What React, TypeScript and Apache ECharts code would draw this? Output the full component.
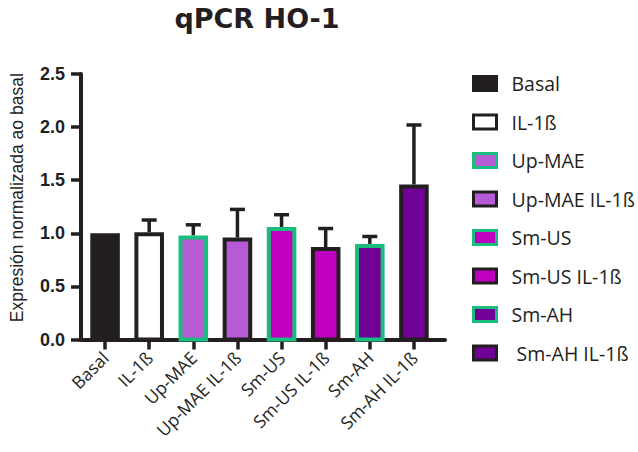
import React, { useEffect, useRef } from "react";
import * as echarts from "echarts";

const TITLE = "qPCR HO-1";
const Y_NAME = "Expresión normalizada ao basal";
const CATEGORIES = ["Basal", "IL-1ß", "Up-MAE", "Up-MAE IL-1ß", "Sm-US", "Sm-US IL-1ß", "Sm-AH", "Sm-AH IL-1ß"];
const LEGEND_NAMES = ["Basal", "IL-1ß", "Up-MAE", "Up-MAE IL-1ß", "Sm-US", "Sm-US IL-1ß", "Sm-AH", " Sm-AH IL-1ß"];
const MEANS = [1.0, 1.01, 0.98, 0.96, 1.06, 0.87, 0.9, 1.46];
const ERRORS = [0, 0.115, 0.1, 0.265, 0.115, 0.175, 0.07, 0.56];
const Y_TICKS = [0, 0.5, 1.0, 1.5, 2.0, 2.5];

const DARK = "#231F20";
const GREEN = "#19BE7F";
const FILLS = ["#231F20", "#FFFFFF", "#B65AD6", "#B65AD6", "#BE00BE", "#BE00BE", "#700096", "#700096"];
const BORDERS = [DARK, DARK, GREEN, DARK, GREEN, DARK, GREEN, DARK];
const BORDER_W = [0, 4, 4, 4, 4, 4, 4, 4];
const BAR_RATIO = 0.67;

export default function App() {
  const ref = useRef<HTMLDivElement>(null);
  useEffect(() => {
    if (!ref.current) return;
    const chart = echarts.init(ref.current, null, { renderer: "svg" });

    const barSeries = LEGEND_NAMES.map((name, k) => ({
      type: "custom",
      name,
      coordinateSystem: "cartesian2d",
      xAxisIndex: 0,
      yAxisIndex: 0,
      encode: { x: 0, y: 1 },
      itemStyle: { color: FILLS[k], borderColor: BORDERS[k], borderWidth: BORDER_W[k] },
      z: 3,
      data: [[k, MEANS[k]]],
      renderItem: (params: any, api: any) => {
        const i = api.value(0);
        const v = api.value(1);
        const top = api.coord([i, v]);
        const base = api.coord([i, 0]);
        const bw = api.size([1, 0])[0] * BAR_RATIO;
        const b = BORDER_W[k];
        return {
          type: "rect",
          shape: { x: top[0] - bw / 2 + b / 2, y: top[1] + b / 2, width: bw - b, height: base[1] - top[1] - b / 2 },
          style: { fill: FILLS[k], stroke: b > 0 ? BORDERS[k] : null, lineWidth: b },
        };
      },
    }));

    const errSeries = {
      type: "custom",
      name: "err",
      coordinateSystem: "cartesian2d",
      xAxisIndex: 0,
      yAxisIndex: 0,
      encode: { x: 0, y: [1, 2] },
      z: 2,
      data: MEANS.map((m, i) => [i, m, m + ERRORS[i]]).filter((d, i) => ERRORS[i] > 0),
      renderItem: (params: any, api: any) => {
        const i = api.value(0);
        const lo = api.coord([i, api.value(1)]);
        const hi = api.coord([i, api.value(2)]);
        const cap = 15;
        const st = { stroke: DARK, lineWidth: 3.5 };
        return {
          type: "group",
          children: [
            { type: "line", shape: { x1: lo[0], y1: lo[1], x2: hi[0], y2: hi[1] }, style: st },
            { type: "line", shape: { x1: hi[0] - cap / 2, y1: hi[1], x2: hi[0] + cap / 2, y2: hi[1] }, style: st },
          ],
        };
      },
    };

    chart.setOption({
      animation: false,
      backgroundColor: "#FFFFFF",
      title: {
        text: TITLE,
        left: 257,
        top: 5,
        textAlign: "center",
        padding: 0,
        textStyle: { fontFamily: "DejaVu Sans", fontWeight: "bold", fontSize: 27, color: DARK },
      },
      legend: {
        data: LEGEND_NAMES,
        orient: "vertical",
        left: 472,
        top: 73.5,
        padding: 0,
        icon: "rect",
        itemWidth: 23,
        itemHeight: 14,
        itemGap: 18.5,
        itemStyle: { borderWidth: 3 },
        textStyle: { fontFamily: "Open Sans", fontSize: 19.5, color: DARK, padding: [0, 0, 0, 10], lineHeight: 17 },
      },
      grid: [
        { left: 83, right: 202, top: 74, bottom: 112.5 },
        { left: 73, right: 193, top: 74, bottom: 112.5 },
      ],
      xAxis: [
        {
          type: "category",
          gridIndex: 0,
          data: CATEGORIES,
          axisLine: { show: false },
          axisTick: { show: true, alignWithLabel: true, length: 10, lineStyle: { color: DARK, width: 3.5 } },
          axisLabel: { rotate: 45, margin: 15, fontFamily: "Open Sans", fontSize: 17.5, color: DARK, interval: 0 },
        },
        {
          type: "value",
          gridIndex: 1,
          min: 0,
          max: 1,
          axisLine: { show: true, lineStyle: { color: DARK, width: 4 } },
          axisTick: { show: false },
          axisLabel: { show: false },
          splitLine: { show: false },
        },
      ],
      yAxis: [
        { type: "value", gridIndex: 0, show: false, min: 0, max: 2.5 },
        {
          type: "value",
          gridIndex: 1,
          min: 0,
          max: 2.5,
          interval: 0.5,
          name: Y_NAME,
          nameLocation: "middle",
          nameGap: 55,
          nameTextStyle: { fontFamily: "Liberation Sans", fontSize: 17.5, color: DARK, padding: [0, 0, 0, 18] },
          axisLine: { show: true, lineStyle: { color: DARK, width: 4 } },
          axisTick: { show: true, length: 10, lineStyle: { color: DARK, width: 3.5 } },
          axisLabel: {
            margin: 16,
            fontFamily: "Liberation Sans",
            fontWeight: "bold",
            fontSize: 18,
            color: DARK,
            formatter: (v: number) => (Y_TICKS.includes(v) ? v.toFixed(1) : ""),
          },
          splitLine: { show: false },
        },
      ],
      series: [...barSeries, errSeries],
    });
    return () => chart.dispose();
  }, []);
  return <div ref={ref} style={{ position: "fixed", left: 0, top: 0, width: 638, height: 452 }} />;
}
